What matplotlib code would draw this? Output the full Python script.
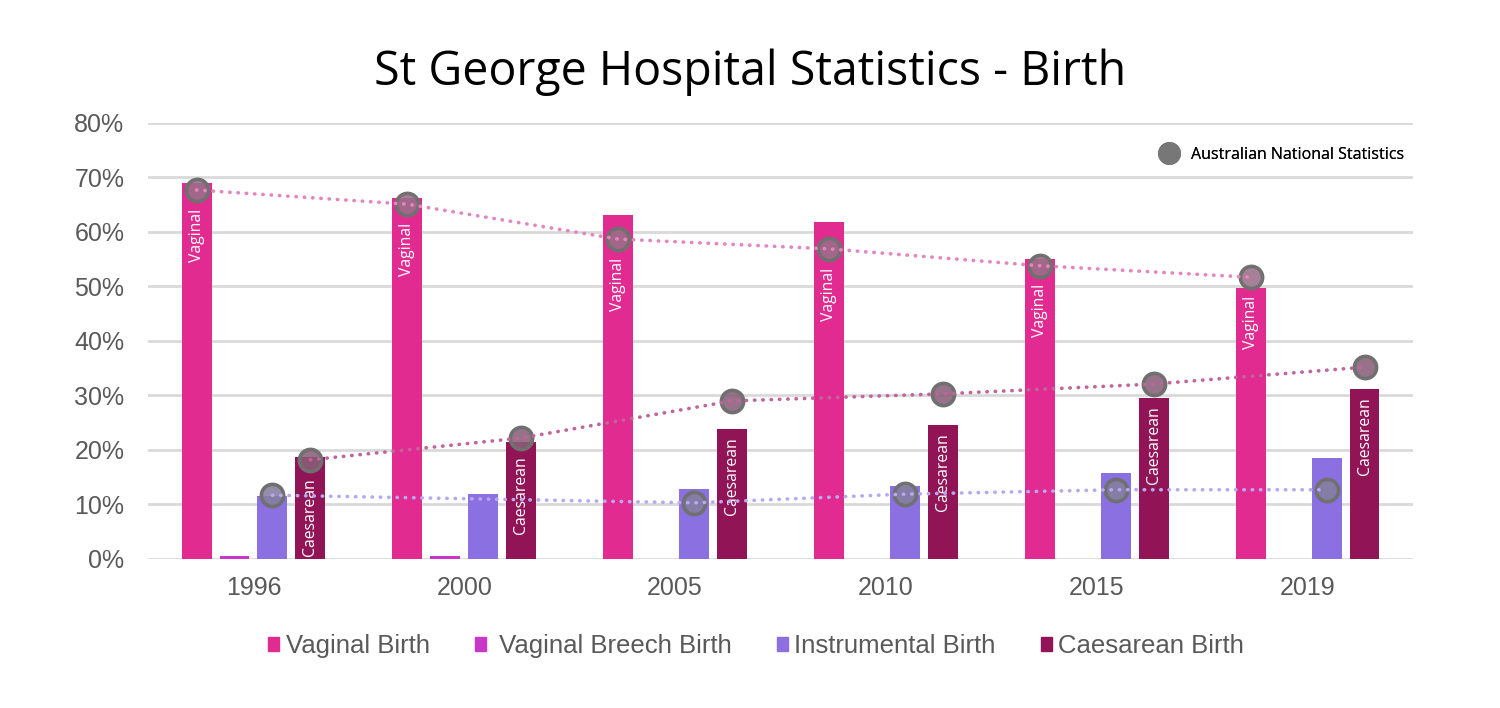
import matplotlib
matplotlib.use("Agg")
import matplotlib.pyplot as plt
import matplotlib.colors as mcolors
import numpy as np
from matplotlib.lines import Line2D
from matplotlib.patches import Patch

years = ["1996", "2000", "2005", "2010", "2015", "2019"]

# St George hospital (%)
vaginal = [69.0, 66.2, 63.1, 61.8, 55.0, 49.7]
breech = [0.5, 0.5, 0.0, 0.0, 0.0, 0.0]
instrumental = [11.6, 11.9, 12.8, 13.4, 15.8, 18.5]
caesarean = [18.7, 21.5, 23.9, 24.6, 29.5, 31.2]

# Australian national statistics (%)
nat_vaginal = [67.7, 65.1, 58.7, 56.9, 53.8, 51.7]
nat_instrumental = [11.7, 11.0, 10.3, 11.9, 12.7, 12.7]
nat_caesarean = [18.2, 22.2, 29.0, 30.3, 32.1, 35.2]
nat_instr_marker = [True, False, True, True, True, True]

series = ["Vaginal Birth", " Vaginal Breech Birth", "Instrumental Birth", "Caesarean Birth"]
colors = ["#E22B90", "#C837C8", "#8A70E0", "#911457"]

fig = plt.figure(figsize=(15, 7.08), dpi=100)
ax = fig.add_axes([0.0987, 0.2105, 0.8433, 0.6158])

x = np.arange(len(years))
slot = 0.18
width = 0.142
values = [vaginal, breech, instrumental, caesarean]
offsets = [-1.5, -0.5, 0.5, 1.5]

bars = []
for vals, off, col in zip(values, offsets, colors):
    b = ax.bar(x + off * slot, vals, width, color=col, zorder=2)
    bars.append(b)

# labels inside bars, kept below the national marker
for name, b, nat in [("Vaginal", bars[0], nat_vaginal), ("Caesarean", bars[3], nat_caesarean)]:
    for rect, nv in zip(b, nat):
        top = min(rect.get_height() - 1.5, nv - 3.4)
        ax.text(rect.get_x() + rect.get_width() / 2, top, name,
                rotation=90, ha="center", va="top", color="white",
                fontsize=11.3, family="Open Sans", zorder=3)


def marker_face(c):
    r, g, b = mcolors.to_rgb(c)
    k = 0.36
    return (r * 0.45 + k * 0.55, g * 0.45 + k * 0.55, b * 0.45 + k * 0.55, 0.88)


# national stats lines
line_specs = [
    (nat_vaginal, -1.5, "#E486BE", [True] * 6),
    (nat_instrumental, 0.5, "#B7A9F0", nat_instr_marker),
    (nat_caesarean, 1.5, "#C0649A", [True] * 6),
]
for vals, off, lc, mask in line_specs:
    xs = x + off * slot
    ax.plot(xs, vals, linestyle=(0, (0.1, 2.2)), dash_capstyle="round",
            color=lc, lw=2.6, zorder=6)
    mx = [xi for xi, m in zip(xs, mask) if m]
    my = [v for v, m in zip(vals, mask) if m]
    ax.plot(mx, my, "o", markersize=16, markerfacecolor=marker_face(lc),
            markeredgecolor="#707070", markeredgewidth=2.6, linestyle="none", zorder=5)

ax.set_xlim(-0.5, 5.5)
ax.set_ylim(0, 80)
ax.set_yticks(range(0, 81, 10))
ax.set_yticklabels([f"{v}%" for v in range(0, 81, 10)])
ax.set_xticks(x)
ax.set_xticklabels(years)
ax.tick_params(length=0, labelsize=18, labelcolor="#595959")
ax.tick_params(axis="y", pad=17)
ax.tick_params(axis="x", pad=12)
for lab in ax.get_xticklabels() + ax.get_yticklabels():
    lab.set_family("Liberation Sans")
ax.grid(axis="y", color="#D9D9D9", lw=2, zorder=0)
ax.set_axisbelow(True)
for s in ax.spines.values():
    s.set_visible(False)

fig.text(0.5, 0.898, "St George Hospital Statistics - Birth", ha="center", va="center",
         fontsize=33.5, family="Open Sans", color="black")

# national stats legend
nat_handle = Line2D([], [], marker="o", linestyle="none", markersize=15.5,
                    markerfacecolor="#777777", markeredgecolor="#777777")
leg1 = ax.legend([nat_handle], ["Australian National Statistics"], loc="center right",
                 bbox_to_anchor=(1404 / 1500, 1 - 155 / 708),
                 bbox_transform=fig.transFigure, frameon=False, borderpad=0,
                 borderaxespad=0, handlelength=1.5, handletextpad=0.6,
                 prop={"family": "Open Sans", "size": 11.5})
ax.add_artist(leg1)

handles = [Patch(color=c) for c in colors]
fig.legend(handles, series, loc="center", bbox_to_anchor=(0.504, 1 - 646 / 708), ncol=4,
           frameon=False, handlelength=0.43, handleheight=0.43, handletextpad=0.25,
           columnspacing=1.75, prop={"family": "Liberation Sans", "size": 18.5},
           labelcolor="#595959")

fig.savefig("out.png", dpi=100)
